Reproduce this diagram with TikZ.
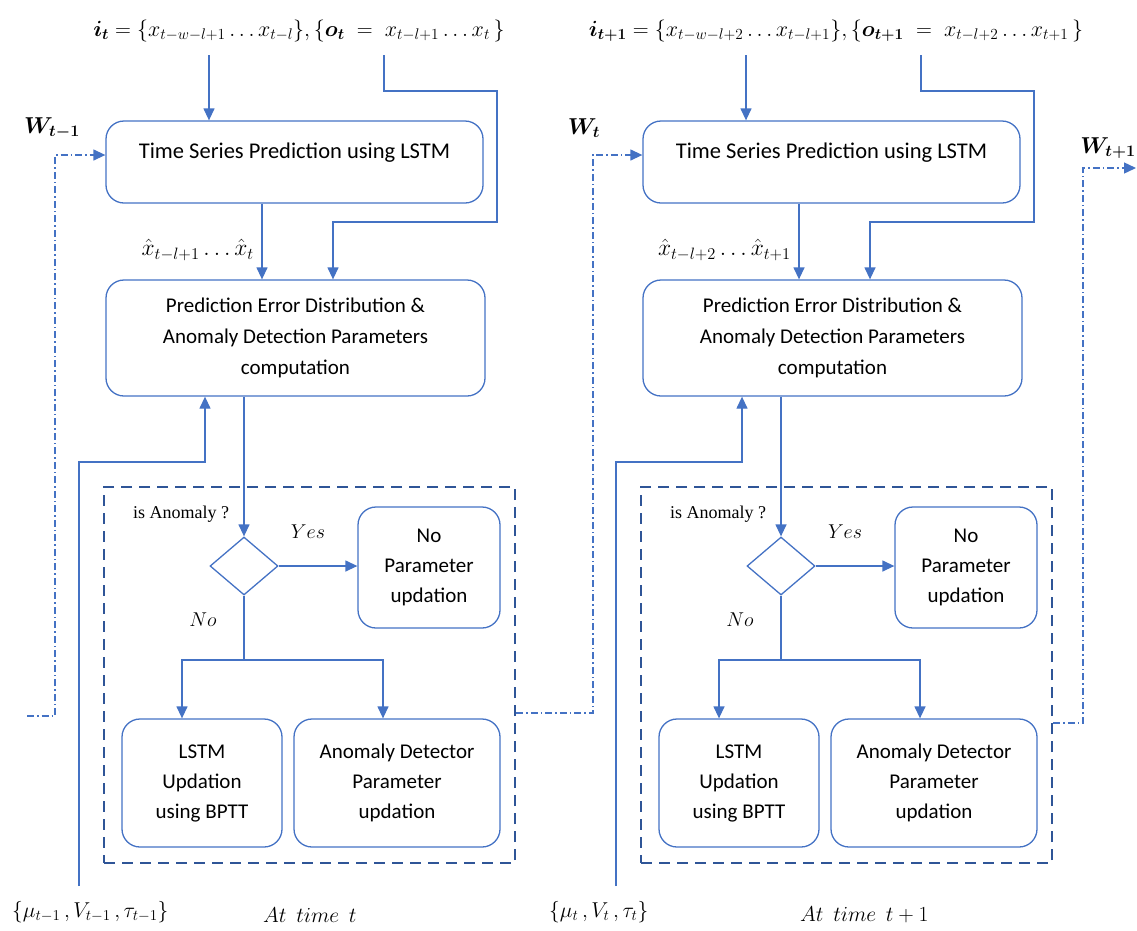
\RequirePackage{fix-cm}
\documentclass[tikz,border=0pt]{standalone}
\usepackage{amsmath}
\usepackage{bm}
\usepackage{fontspec}
\setmainfont{Carlito}
\newfontfamily\qfont{Liberation Serif}
\usetikzlibrary{arrows.meta,shapes.geometric,calc}

\definecolor{boxblue}{RGB}{68,114,196}
\definecolor{grpblue}{RGB}{47,85,151}

\tikzset{
  x=1pt, y=-1pt,
  box/.style={draw=boxblue, line width=1.3pt, rounded corners=18pt,
    align=center, inner sep=0pt, font=\fontsize{21}{30}\selectfont},
  tip/.style={-{Triangle[length=12pt,width=11pt]}},
  flow/.style={draw=boxblue, line width=1.3pt, tip},
  link/.style={draw=boxblue, line width=1.3pt},
  ddot/.style={draw=boxblue, line width=1.3pt,
    dash pattern=on 7pt off 3pt on 1.5pt off 3pt},
  grp/.style={draw=grpblue, line width=2.6pt, dash pattern=on 11pt off 7pt,
    inner sep=0pt},
  decide/.style={draw=boxblue, line width=1.3pt, diamond, inner sep=0pt,
    minimum width=68pt, minimum height=58pt},
  mlbl/.style={font=\fontsize{20}{24}\selectfont, inner sep=0pt},
  botlbl/.style={font=\fontsize{21.5}{26}\selectfont, inner sep=0pt},
  toplbl/.style={font=\fontsize{22}{26}\selectfont, inner sep=0pt},
  predlbl/.style={font=\fontsize{23.5}{28}\selectfont, inner sep=0pt},
  wlbl/.style={font=\fontsize{23}{27}\selectfont, inner sep=0pt},
  qlbl/.style={font=\qfont\fontsize{18}{22}\selectfont, inner sep=0pt},
}

% One processing stage: #1 name suffix, #2 horizontal offset,
% #3 window line, #4 prediction label, #5 parameter set, #6 caption
\newcommand\stage[6]{%
\begin{scope}[xshift=#2]
  \node[toplbl] (win#1) at (299,31) {#3};
  \coordinate (i#1) at (209,55);
  \coordinate (o#1) at (384,55);
  \coordinate (oup#1) at (497,91);
  \coordinate (odn#1) at (333,222);
  \coordinate (pr#1) at (262,0);
  \coordinate (mu#1) at (79,886);
  \coordinate (mturn#1) at (205,462);
  \coordinate (split#1) at (244,660);
  \coordinate (la#1) at (182,0);
  \coordinate (ra#1) at (383,0);

  \node[box, minimum width=377pt, minimum height=82pt, text depth=22pt,
    font=\fontsize{22.5}{30}\selectfont]
    (tsp#1) at (294.5,162) {Time Series Prediction using LSTM};
  \node[box, minimum width=379pt, minimum height=116pt,
    font=\fontsize{21}{31}\selectfont]
    (ped#1) at (295.5,338) {Prediction Error Distribution \&\\
      Anomaly Detection Parameters\\ computation};
  \node[grp, minimum width=411pt, minimum height=376pt] (grp#1) at (309.5,675) {};
  \node[decide] (dec#1) at (244,566) {};
  \node[box, minimum width=142pt, minimum height=121pt]
    (nop#1) at (429,567.5) {No\\ Parameter\\ updation};
  \node[box, minimum width=160pt, minimum height=128pt]
    (lstm#1) at (202,783) {LSTM\\ Updation\\ using BPTT};
  \node[box, minimum width=206pt, minimum height=128pt]
    (adp#1) at (397,783) {Anomaly Detector\\ Parameter\\ updation};

  \node[predlbl, anchor=east] (pl#1) at (254,250) {#4};
  \node[qlbl] (qa#1) at (181,514) {is Anomaly ?};
  \node[mlbl] (yes#1) at (308,532) {$Yes$};
  \node[mlbl] (no#1) at (203,620) {$No$};
  \node[botlbl, anchor=west] (ps#1) at (12,912) {#5};
  \node[botlbl, anchor=west] (cap#1) at (263,915) {#6};

  \draw[flow] (i#1) -- (i#1 |- tsp#1.north);
  \draw[flow] (o#1) |- (oup#1) |- (odn#1) -- (odn#1 |- ped#1.north);
  \draw[flow] (pr#1 |- tsp#1.south) -- (pr#1 |- ped#1.north);
  \draw[flow] (mu#1) |- (mturn#1) -- (mturn#1 |- ped#1.south);
  \draw[flow] (ped#1.south -| dec#1.north) -- (dec#1.north);
  \draw[flow] (dec#1.east) -- (dec#1.east -| nop#1.west);
  \draw[link] (dec#1.south) -- (split#1);
  \draw[flow] (split#1) -| (la#1 |- lstm#1.north);
  \draw[flow] (split#1) -| (ra#1 |- adp#1.north);
\end{scope}}

\begin{document}
\begin{tikzpicture}
  \useasboundingbox (0,0) rectangle (1137,930);

  \stage{A}{0pt}
    {$\bm{i_t} = \{x_{t-w-l+1} \ldots x_{t-l}\}, \{\bm{o_t} \;=\; x_{t-l+1} \ldots x_t\,\}$}
    {$\hat{x}_{t-l+1} \ldots \hat{x}_t$}
    {$\{\mu_{t-1}\,, V_{t-1}\,, \tau_{t-1}\}$}
    {$At\ \ time\ \ t$}
  \stage{B}{537pt}
    {$\bm{i_{t+1}} = \{x_{t-w-l+2} \ldots x_{t-l+1}\}, \{\bm{o_{t+1}} \;=\; x_{t-l+2} \ldots x_{t+1}\,\}$}
    {$\hat{x}_{t-l+2} \ldots \hat{x}_{t+1}$}
    {$\{\mu_t\,, V_t\,, \tau_t\}$}
    {$At\ \ time\ \ t+1$}

  % weights handed from stage to stage
  \node[wlbl] (w0) at (52,128) {$\bm{W_{t-1}}$};
  \node[wlbl] (w1) at (584,128) {$\bm{W_t}$};
  \node[wlbl] (w2) at (1108,148) {$\bm{W_{t+1}}$};

  \coordinate (win) at (27,716);
  \coordinate (wup0) at (55,716);
  \coordinate (wup1) at (593,713);
  \coordinate (wup2) at (1083,723);
  \coordinate (wout) at (1136,168);

  \draw[ddot, tip] (win) -- (wup0) |- ([yshift=7pt]tspA.west);
  \draw[ddot, tip] (grpA.east |- wup1) -- (wup1) |- ([yshift=7pt]tspB.west);
  \draw[ddot, tip] (grpB.east |- wup2) -- (wup2) |- (wout);
\end{tikzpicture}
\end{document}
